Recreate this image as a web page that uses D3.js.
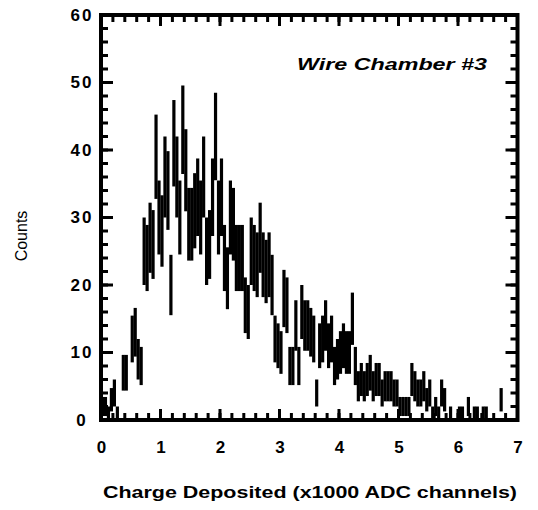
<!DOCTYPE html>
<html>
<head>
<meta charset="utf-8">
<script src="https://cdn.jsdelivr.net/npm/d3@7"></script>
<style>
  body { margin: 0; background: #fff; }
  text { font-family: "Liberation Sans", Arial, sans-serif; fill: #000; }
</style>
</head>
<body>
<div id="corpo"></div>
<script>
// histogram: counts per 0.05 bin (x1000 ADC channels), error bars = sqrt(n)
var binWidth = 0.05;
var counts = [
  2, 2, 1, 3, 4, 1, 0, 7, 7, 0,
  12, 13, 9, 8, 25, 24, 27, 26, 39, 30,
  28, 36, 34, 20, 41, 36, 30, 43, 37, 29,
  29, 31, 33, 30, 36, 25, 26, 33, 42, 30,
  33, 24, 21, 30, 29, 24, 24, 24, 17, 16,
  25, 24, 23, 27, 23, 22, 23, 20, 12, 11,
  10, 18, 17, 8, 8, 14, 8, 16, 14, 14,
  13, 12, 4, 11, 12, 14, 11, 12, 8, 9,
  10, 11, 10, 10, 15, 8, 5, 6, 5, 6,
  7, 5, 6, 6, 4, 5, 5, 5, 4, 4,
  2, 2, 2, 2, 6, 5, 4, 4, 5, 3,
  4, 1, 2, 1, 4, 3, 0, 1, 0, 0,
  1, 1, 0, 2, 0, 1, 1, 0, 1, 1,
  0, 0, 0, 0, 3, 0, 0, 0, 0, 0
];
var xTicks = [0, 1, 2, 3, 4, 5, 6, 7];
var yTicks = [0, 10, 20, 30, 40, 50, 60];
var xLabel = "Charge Deposited (x1000 ADC channels)";
var yLabel = "Counts";
var plotTitle = "Wire Chamber #3";

var width = 538, height = 510;
var pLeft = 101, pRight = 517.5, pTop = 15, pBottom = 420;

var svg = d3.select("#corpo").append("svg")
    .attr("width", width)
    .attr("height", height);

var x = d3.scaleLinear().domain([0, 7]).range([pLeft, pRight]);
var y = d3.scaleLinear().domain([0, 60]).range([pBottom, pTop]);

// error bars
svg.append("g").selectAll("line")
    .data(counts)
    .enter().append("line")
    .attr("x1", function(d, i) { return x((i + 0.5) * binWidth); })
    .attr("x2", function(d, i) { return x((i + 0.5) * binWidth); })
    .attr("y1", function(d) { return y(Math.max(0, d - Math.sqrt(d))); })
    .attr("y2", function(d) { return y(d + Math.sqrt(d)); })
    .style("stroke", "#000")
    .style("stroke-width", 3.2);

// frame
svg.append("rect")
    .attr("x", pLeft).attr("y", pTop)
    .attr("width", pRight - pLeft).attr("height", pBottom - pTop)
    .style("fill", "none")
    .style("stroke", "#000")
    .style("stroke-width", 4);

// minor and major ticks, pointing inward on all four sides (drawn from the scales)
var minorX = d3.range(0, 7.001, 0.2);
var minorY = d3.range(0, 60.001, 2);

function xTickMarks(vals, yPos, len) {
    svg.append("g").selectAll("line")
        .data(vals)
        .enter().append("line")
        .attr("x1", function(d) { return x(d); })
        .attr("x2", function(d) { return x(d); })
        .attr("y1", yPos)
        .attr("y2", yPos + len)
        .style("stroke", "#000")
        .style("stroke-width", 3);
}
function yTickMarks(vals, xPos, len) {
    svg.append("g").selectAll("line")
        .data(vals)
        .enter().append("line")
        .attr("y1", function(d) { return y(d); })
        .attr("y2", function(d) { return y(d); })
        .attr("x1", xPos)
        .attr("x2", xPos + len)
        .style("stroke", "#000")
        .style("stroke-width", 3);
}
xTickMarks(minorX, pBottom, -7);
xTickMarks(minorX, pTop, 7);
yTickMarks(minorY, pLeft, 7);
yTickMarks(minorY, pRight, -7);
xTickMarks(xTicks, pBottom, -11);
xTickMarks(xTicks, pTop, 11);
yTickMarks(yTicks, pLeft, 12);
yTickMarks(yTicks, pRight, -12);

// tick labels through d3 axes
var gx = svg.append("g")
    .attr("transform", "translate(0," + pBottom + ")")
    .call(d3.axisBottom(x).tickValues(xTicks).tickSize(0).tickPadding(21).tickFormat(d3.format("d")));
var gy = svg.append("g")
    .attr("transform", "translate(" + pLeft + ",0)")
    .call(d3.axisLeft(y).tickValues(yTicks).tickSize(0).tickFormat(d3.format("d")));
gx.select(".domain").remove();
gy.select(".domain").remove();

gx.selectAll("text")
    .style("font-size", "17px")
    .style("font-weight", "bold")
    .style("font-family", "Liberation Sans, Arial, sans-serif")
    .style("fill", "#000");
gy.selectAll("text")
    .attr("x", -19)
    .attr("text-anchor", "middle")
    .style("letter-spacing", "2px")
    .style("font-size", "17px")
    .style("font-weight", "bold")
    .style("font-family", "Liberation Sans, Arial, sans-serif")
    .style("fill", "#000");

svg.append("text")
    .attr("x", 297).attr("y", 70)
    .attr("textLength", 190).attr("lengthAdjust", "spacingAndGlyphs")
    .style("font-size", "17px")
    .style("font-weight", "bold")
    .style("font-style", "italic")
    .text(plotTitle);

svg.append("text")
    .attr("x", 103).attr("y", 498)
    .attr("textLength", 414).attr("lengthAdjust", "spacingAndGlyphs")
    .style("font-size", "17px")
    .style("font-weight", "bold")
    .text(xLabel);

svg.append("text")
    .attr("transform", "translate(27,236) rotate(-90)")
    .attr("text-anchor", "middle")
    .style("font-size", "16px")
    .text(yLabel);
</script>
</body>
</html>
